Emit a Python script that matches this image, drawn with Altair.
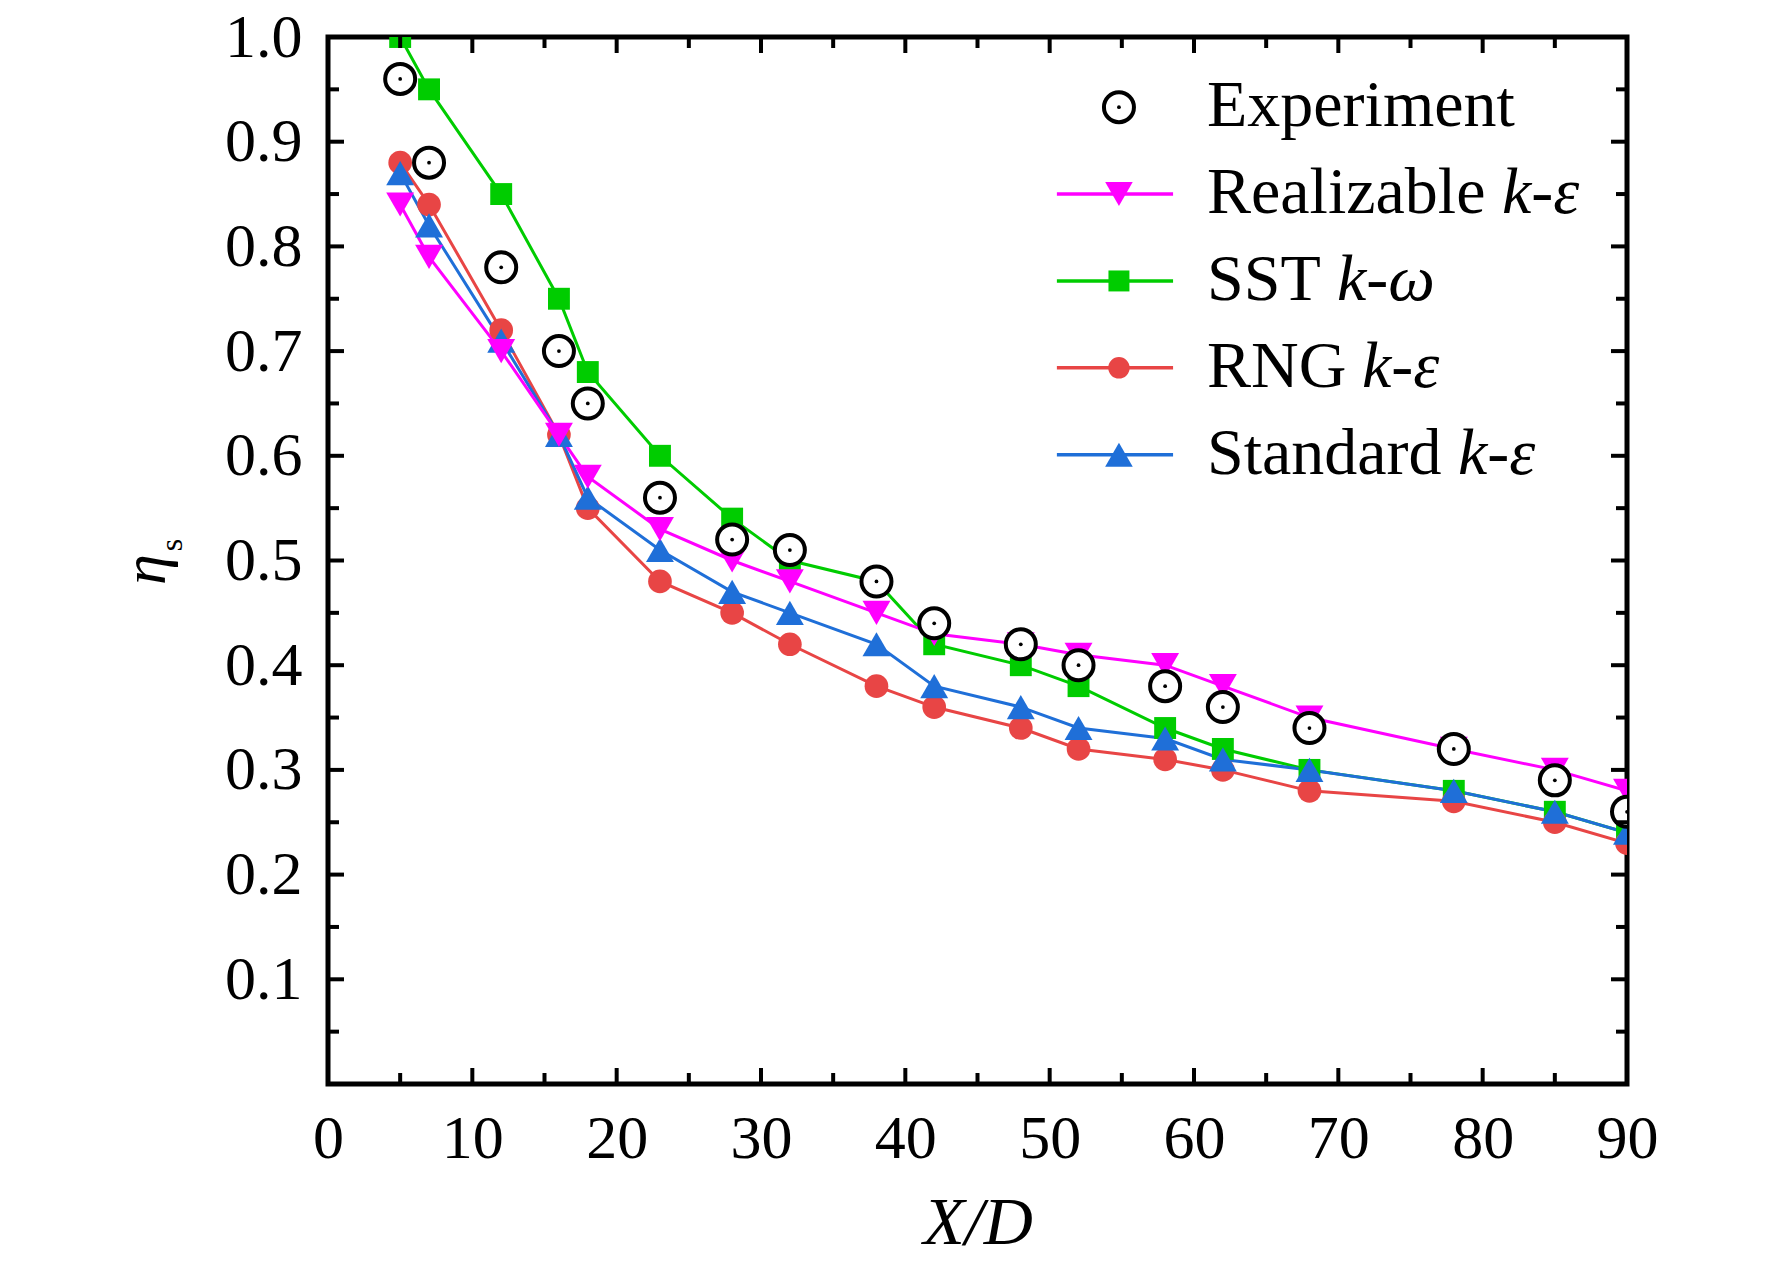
import altair as alt
import pandas as pd

# ---------------- data ----------------
x_d = [5, 7, 12, 16, 18, 23, 28, 32, 38, 42, 48, 52, 58, 62, 68, 78, 85, 90]
experiment = [0.96, 0.88, 0.78, 0.70, 0.65, 0.56, 0.52, 0.51, 0.48, 0.44, 0.42, 0.40, 0.38, 0.36, 0.34, 0.32, 0.29, 0.26]
realizable = [0.84, 0.79, 0.70, 0.62, 0.58, 0.53, 0.50, 0.48, 0.45, 0.43, 0.42, 0.41, 0.40, 0.38, 0.35, 0.32, 0.30, 0.28]
sst = [1.00, 0.95, 0.85, 0.75, 0.68, 0.60, 0.54, 0.50, 0.48, 0.42, 0.40, 0.38, 0.34, 0.32, 0.30, 0.28, 0.26, 0.24]
rng = [0.88, 0.84, 0.72, 0.62, 0.55, 0.48, 0.45, 0.42, 0.38, 0.36, 0.34, 0.32, 0.31, 0.30, 0.28, 0.27, 0.25, 0.23]
standard = [0.87, 0.82, 0.71, 0.62, 0.56, 0.51, 0.47, 0.45, 0.42, 0.38, 0.36, 0.34, 0.33, 0.31, 0.30, 0.28, 0.26, 0.24]

x_labels = [0, 10, 20, 30, 40, 50, 60, 70, 80, 90]
y_labels = [0.1, 0.2, 0.3, 0.4, 0.5, 0.6, 0.7, 0.8, 0.9, 1.0]
x_major = [10, 20, 30, 40, 50, 60, 70, 80]
x_minor = [5, 15, 25, 35, 45, 55, 65, 75, 85]
y_major = [0.1, 0.2, 0.3, 0.4, 0.5, 0.6, 0.7, 0.8, 0.9]
y_minor = [0.05, 0.15, 0.25, 0.35, 0.45, 0.55, 0.65, 0.75, 0.85, 0.95]

legend_names = ["Experiment", "Realizable", "SST", "RNG", "Standard"]
legend_upright = ["Experiment", "Realizable ", "SST ", "RNG ", "Standard "]
legend_italic = ["", "k-ε", "k-ω", "k-ε", "k-ε"]

# ---------------- styles / layout ----------------
W, H = 1299, 1047
X_MAX, Y_MAX = 90, 1.0
FONT = "Liberation Serif"
BLACK = "#000000"
LEG_FONT = 66

style = {
    "SST": dict(color="#00CC00", shape="square", size=480, leg_size=440),
    "RNG": dict(color="#E84545", shape="circle", size=560, leg_size=460),
    "Standard": dict(color="#1F6FD8", shape="triangle-up", size=780, leg_size=760),
    "Realizable": dict(color="#FF00FF", shape="triangle-down", size=780, leg_size=760),
}
draw_order = ["SST", "RNG", "Standard", "Realizable"]
series_values = {"SST": sst, "RNG": rng, "Standard": standard, "Realizable": realizable}

xs = alt.Scale(domain=[0, X_MAX], nice=False, zero=False)
ys = alt.Scale(domain=[0, Y_MAX], nice=False, zero=False)

# ---------------- tables ----------------
rows = []
for k, name in enumerate(draw_order):
    st = style[name]
    for i, (xv, yv) in enumerate(zip(x_d, series_values[name])):
        rows.append(dict(series=name, k=k, i=i, x=xv, y=yv, color=st["color"],
                         shape=st["shape"], size=st["size"]))
models = pd.DataFrame(rows)
exp_df = pd.DataFrame({"x": x_d, "y": experiment})

# inward ticks on all four sides
LY_MAJ, LY_MIN = 16 / H * Y_MAX, 11 / H * Y_MAX
LX_MAJ, LX_MIN = 16 / W * X_MAX, 11 / W * X_MAX
tk = []
for xv in x_major:
    tk += [dict(x=xv, x2=xv, y=0, y2=LY_MAJ), dict(x=xv, x2=xv, y=Y_MAX, y2=Y_MAX - LY_MAJ)]
for xv in x_minor:
    tk += [dict(x=xv, x2=xv, y=0, y2=LY_MIN), dict(x=xv, x2=xv, y=Y_MAX, y2=Y_MAX - LY_MIN)]
for yv in y_major:
    tk += [dict(x=0, x2=LX_MAJ, y=yv, y2=yv), dict(x=X_MAX, x2=X_MAX - LX_MAJ, y=yv, y2=yv)]
for yv in y_minor:
    tk += [dict(x=0, x2=LX_MIN, y=yv, y2=yv), dict(x=X_MAX, x2=X_MAX - LX_MIN, y=yv, y2=yv)]
ticks_df = pd.DataFrame(tk)

# legend (placed in data space, upper right)
LEG_X0, LEG_X1, LEG_SYM_X, LEG_TEXT_X = 50.5, 58.55, 54.8, 60.9
LEG_Y0, LEG_STEP = 0.933, 0.083
ITALIC_DX_PX = [0, 295, 130, 155, 251]
leg_rows = []
for i, name in enumerate(legend_names):
    st = style.get(name, dict(color=BLACK, shape="circle", leg_size=900))
    leg_rows.append(dict(name=name, y=LEG_Y0 - i * LEG_STEP, x0=LEG_X0, x1=LEG_X1,
                         xs=LEG_SYM_X, xt=LEG_TEXT_X,
                         xi=LEG_TEXT_X + ITALIC_DX_PX[i] / W * X_MAX,
                         color=st["color"], shape=st["shape"], size=st["leg_size"],
                         up=legend_upright[i], it=legend_italic[i]))
leg = pd.DataFrame(leg_rows)
leg_series = leg[leg["name"] != "Experiment"]
leg_exp = leg[leg["name"] == "Experiment"]

# ---------------- layers ----------------
x_axis = alt.Axis(values=x_labels, ticks=False, domain=False, grid=False, labelFlush=False,
                  labelFont=FONT, labelFontSize=62, labelColor=BLACK, labelPadding=24,
                  title="X/D", titleFont=FONT, titleFontSize=68, titleFontStyle="italic",
                  titleFontWeight="normal", titleColor=BLACK, titleY=159,
                  titleBaseline="alphabetic")
y_axis = alt.Axis(values=y_labels, format=".1f", ticks=False, domain=False, grid=False,
                  labelFlush=False,
                  labelFont=FONT, labelFontSize=62, labelColor=BLACK, labelPadding=26,
                  title="η", titleFont=FONT, titleFontSize=62, titleFontStyle="italic",
                  titleFontWeight="normal", titleColor=BLACK, titleAngle=270,
                  titleX=-164, titleY=532, titleAlign="center", titleBaseline="alphabetic")

lines = alt.Chart(models).mark_line(strokeWidth=3, clip=True).encode(
    x=alt.X("x:Q", scale=xs, axis=x_axis),
    y=alt.Y("y:Q", scale=ys, axis=y_axis),
    color=alt.Color("color:N", scale=None),
    detail="series:N",
    order="i:Q",
)

points = alt.Chart(models).mark_point(filled=True, opacity=1, clip=True).encode(
    x=alt.X("x:Q", scale=xs),
    y=alt.Y("y:Q", scale=ys),
    color=alt.Color("color:N", scale=None),
    shape=alt.Shape("shape:N", scale=None),
    size=alt.Size("size:Q", scale=None),
    order="k:Q",
)

exp_ring = alt.Chart(exp_df).mark_point(shape="circle", size=900, filled=False, fill="white",
                                        fillOpacity=1, stroke=BLACK, strokeWidth=4,
                                        opacity=1, clip=True).encode(
    x=alt.X("x:Q", scale=xs),
    y=alt.Y("y:Q", scale=ys),
)
exp_dot = alt.Chart(exp_df).mark_point(shape="circle", size=14, filled=True, color=BLACK,
                                       opacity=1, clip=True).encode(
    x=alt.X("x:Q", scale=xs),
    y=alt.Y("y:Q", scale=ys),
)

ticks = alt.Chart(ticks_df).mark_rule(color=BLACK, strokeWidth=4).encode(
    x=alt.X("x:Q", scale=xs),
    x2="x2:Q",
    y=alt.Y("y:Q", scale=ys),
    y2="y2:Q",
)

leg_lines = alt.Chart(leg_series).mark_rule(strokeWidth=3.5).encode(
    x=alt.X("x0:Q", scale=xs),
    x2="x1:Q",
    y=alt.Y("y:Q", scale=ys),
    color=alt.Color("color:N", scale=None),
)
leg_syms = alt.Chart(leg_series).mark_point(filled=True, opacity=1).encode(
    x=alt.X("xs:Q", scale=xs),
    y=alt.Y("y:Q", scale=ys),
    color=alt.Color("color:N", scale=None),
    shape=alt.Shape("shape:N", scale=None),
    size=alt.Size("size:Q", scale=None),
)
leg_ring = alt.Chart(leg_exp).mark_point(shape="circle", size=900, filled=False, fill="white",
                                         fillOpacity=1, stroke=BLACK, strokeWidth=4,
                                         opacity=1).encode(
    x=alt.X("xs:Q", scale=xs),
    y=alt.Y("y:Q", scale=ys),
)
leg_dot = alt.Chart(leg_exp).mark_point(shape="circle", size=14, filled=True, color=BLACK,
                                        opacity=1).encode(
    x=alt.X("xs:Q", scale=xs),
    y=alt.Y("y:Q", scale=ys),
)
leg_text = alt.Chart(leg).mark_text(font=FONT, fontSize=LEG_FONT, align="left",
                                    baseline="alphabetic", dy=19, color=BLACK).encode(
    x=alt.X("xt:Q", scale=xs),
    y=alt.Y("y:Q", scale=ys),
    text="up:N",
)
leg_ital = alt.Chart(leg_series).mark_text(font=FONT, fontSize=LEG_FONT, fontStyle="italic",
                                           align="left", baseline="alphabetic", dy=19,
                                           color=BLACK).encode(
    x=alt.X("xi:Q", scale=xs),
    y=alt.Y("y:Q", scale=ys),
    text="it:N",
)

y_sub = alt.Chart(pd.DataFrame({"t": ["s"]})).mark_text(
    font=FONT, fontSize=32, angle=270, align="center", baseline="alphabetic", color=BLACK
).encode(x=alt.value(-146), y=alt.value(508), text="t:N")

chart = alt.layer(
    lines, points, exp_ring, exp_dot, ticks,
    leg_lines, leg_syms, leg_ring, leg_dot, leg_text, leg_ital, y_sub,
).properties(
    width=W, height=H,
    autosize=alt.AutoSizeParams(type="none"),
    padding={"left": 320, "top": 29, "right": 130, "bottom": 175},
    background="white",
).configure_view(
    stroke=BLACK, strokeWidth=5
)

chart.save("out.html", embed_options={"renderer": "svg", "actions": False})
